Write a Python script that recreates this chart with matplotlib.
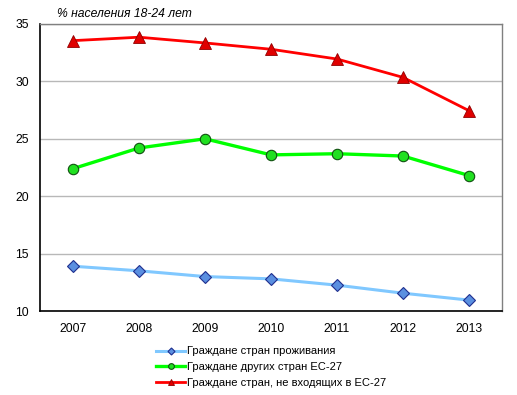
import matplotlib
matplotlib.use("Agg")
import matplotlib.pyplot as plt

years = ["2007", "2008", "2009", "2010", "2011", "2012", "2013"]
residence = [13.9, 13.5, 13.0, 12.8, 12.25, 11.55, 10.95]
other_eu = [22.4, 24.2, 25.0, 23.6, 23.7, 23.5, 21.8]
non_eu = [33.55, 33.85, 33.35, 32.8, 31.95, 30.35, 27.45]
labels = ["Граждане стран проживания",
          "Граждане других стран ЕС-27",
          "Граждане стран, не входящих в ЕС-27"]
title = "% населения 18-24 лет"

plt.rcParams['font.family'] = ['Liberation Sans', 'DejaVu Sans']

fig = plt.figure(figsize=(5.17, 3.95), dpi=100)
W, H = 517, 395
ax = fig.add_axes([40 / W, 1 - 311 / H, 462 / W, 287 / H])

x = list(range(len(years)))
ax.plot(x, residence, color='#80c8ff', lw=2.2, marker='D', ms=6.5,
        mfc='#5a8fe0', mec='#1f2f8f', mew=0.8, label=labels[0], zorder=3)
ax.plot(x, other_eu, color='#00ff00', lw=2.4, marker='o', ms=7.5,
        mfc='#20e020', mec='#105010', mew=0.8, label=labels[1], zorder=3)
ax.plot(x, non_eu, color='#ff0000', lw=2.0, marker='^', ms=8,
        mfc='#e00000', mec='#900000', mew=0.6, label=labels[2], zorder=3)

ax.set_xlim(-0.5, len(years) - 0.5)
ax.set_ylim(10, 35)
ax.set_yticks([10, 15, 20, 25, 30, 35])
ax.set_xticks(x)
ax.set_xticklabels(years)
ax.yaxis.grid(True, color='#b8b8b8', lw=1)
ax.set_axisbelow(True)
ax.tick_params(axis='both', length=0, labelsize=8.7)
ax.tick_params(axis='y', pad=8)
ax.tick_params(axis='x', pad=9)
for s in ['left', 'bottom']:
    ax.spines[s].set_color('black')
    ax.spines[s].set_linewidth(1.2)
for s in ['top', 'right']:
    ax.spines[s].set_color('#808080')
    ax.spines[s].set_linewidth(1.0)

fig.text(57 / W, 1 - 14 / H, title, fontsize=8.7, style='italic',
         va='center', ha='left')

leg = fig.legend(loc='center', bbox_to_anchor=(271 / W, 1 - 367 / H),
                 frameon=False, fontsize=8, handlelength=2.6,
                 handletextpad=0.15, labelspacing=0.5, markerscale=0.55)

fig.savefig("out.png", dpi=100)
